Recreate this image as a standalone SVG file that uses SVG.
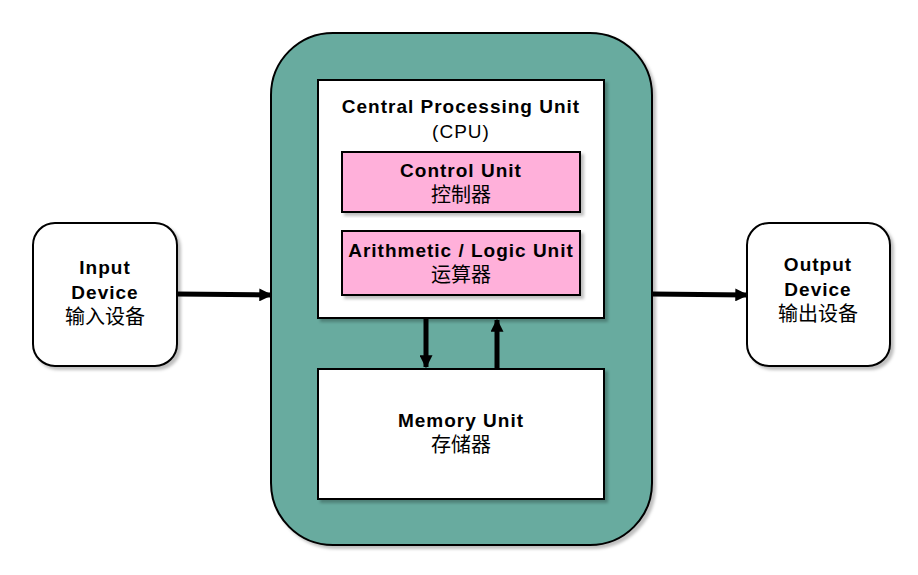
<svg xmlns="http://www.w3.org/2000/svg" width="918" height="575" viewBox="0 0 918 575">
<defs>
<filter id="sh" x="-10%" y="-10%" width="120%" height="120%">
<feDropShadow dx="3" dy="3" stdDeviation="1.5" flood-color="#000" flood-opacity="0.25"/>
</filter>
<marker id="ah" viewBox="0 0 10 10" refX="9" refY="5" markerWidth="2.6" markerHeight="2.6" orient="auto" markerUnits="strokeWidth">
<path d="M0,0 L10,5 L0,10 Z" fill="#000"/>
</marker>
<style>
.box{stroke:#000;stroke-width:2;filter:url(#sh)}
.t{font-family:"Comic Sans MS","Liberation Sans","Noto Sans CJK SC",sans-serif;font-size:19px;letter-spacing:1px;font-weight:bold;text-anchor:middle;fill:#000}
.c{font-family:"Noto Sans CJK SC",sans-serif;font-size:20px;text-anchor:middle;fill:#000}
.p{font-family:"Comic Sans MS","Liberation Sans",sans-serif;font-size:19px;letter-spacing:1px;text-anchor:middle;fill:#000}
.ar{stroke:#000;stroke-width:5;fill:none;marker-end:url(#ah)}
</style>
</defs>
<g id="computer">
<rect class="box" x="271" y="33" width="381" height="512" rx="62" ry="62" fill="#67AB9F"/>
</g>
<g id="cpu">
<rect class="box" x="318" y="80" width="286" height="238" fill="#fff"/>
<text class="t" x="461" y="113">Central Processing Unit</text>
<text class="p" x="461" y="138">(CPU)</text>
</g>
<g id="control">
<rect class="box" x="342" y="152" width="238" height="60" fill="#FFB0DA"/>
<text class="t" x="461" y="177">Control Unit</text>
<text class="c" x="461" y="202">控制器</text>
</g>
<g id="alu">
<rect class="box" x="342" y="231" width="238" height="64" fill="#FFB0DA"/>
<text class="t" x="461" y="257">Arithmetic / Logic Unit</text>
<text class="c" x="461" y="282">运算器</text>
</g>
<g id="memory">
<rect class="box" x="318" y="369" width="286" height="130" fill="#fff"/>
<text class="t" x="461" y="427">Memory Unit</text>
<text class="c" x="461" y="452">存储器</text>
</g>
<g id="input">
<rect class="box" x="33" y="223" width="144" height="143" rx="22" ry="22" fill="#fff"/>
<text class="t" x="105" y="274">Input</text>
<text class="t" x="105" y="299">Device</text>
<text class="c" x="105" y="324">输入设备</text>
</g>
<g id="output">
<rect class="box" x="747" y="223" width="143" height="143" rx="22" ry="22" fill="#fff"/>
<text class="t" x="818" y="271">Output</text>
<text class="t" x="818" y="296">Device</text>
<text class="c" x="818" y="321">输出设备</text>
</g>
<g id="connectors">
<line class="ar" x1="177" y1="294" x2="271" y2="295"/>
<line class="ar" x1="652" y1="294" x2="747" y2="295"/>
<line class="ar" x1="426" y1="319" x2="426" y2="367"/>
<line class="ar" x1="497" y1="368" x2="497" y2="320"/>
</g>
</svg>
